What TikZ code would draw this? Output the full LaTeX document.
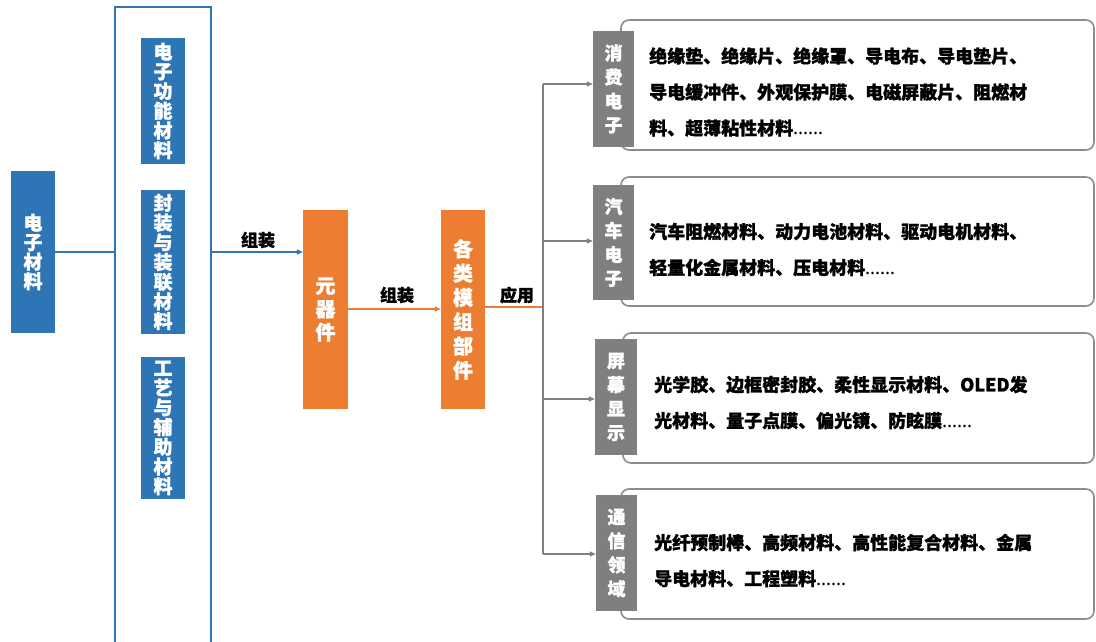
\documentclass[tikz,border=0pt]{standalone}
\usepackage{fontspec}
\setmainfont{Noto Sans CJK SC}[BoldFeatures={FakeBold=1.2}]
\newfontfamily\latinf{Noto Sans}[BoldFeatures={FakeBold=1.2}]
\usetikzlibrary{arrows.meta,positioning,calc}
\definecolor{cblue}{HTML}{2E75B6}
\definecolor{corange}{HTML}{ED7D31}
\definecolor{cgray}{HTML}{7F7F7F}
\definecolor{cborder}{HTML}{8C8C8C}
\newcommand{\myell}{{\latinf\bfseries\fontsize{19}{36}\selectfont ……}}
\tikzset{
  vbox/.style={rectangle, inner sep=0pt, text=white, font=\fontsize{18}{20}\selectfont\bfseries, align=center},
  bluebox/.style={vbox, fill=cblue},
  orangebox/.style={vbox, fill=corange, font=\fontsize{19}{24}\selectfont\bfseries},
  graybox/.style={vbox, fill=cgray, font=\fontsize{18}{24}\selectfont\bfseries},
  itembox/.style={draw=cborder, line width=1.6pt, rounded corners=8pt, fill=white},
  itemtext/.style={anchor=west, inner sep=0pt, align=left, font=\fontsize{18}{36}\selectfont\bfseries},
  lbl/.style={inner sep=0pt, font=\fontsize{17}{20}\selectfont\bfseries},
  arr/.style={-{Triangle[length=6pt,width=5pt]}},
}
\begin{document}
\begin{tikzpicture}[x=1pt,y=-1pt]
\useasboundingbox (0,0) rectangle (1096,641);
\clip (0,0) rectangle (1096,641);
\fill[white] (0,0) rectangle (1096,641);

% left part
\node[bluebox, minimum width=44pt, minimum height=162pt, font=\fontsize{19}{19.5}\selectfont\bfseries] (elec) at (33,252) {电\\子\\材\\料};
\node[draw=cblue, line width=1.4pt, minimum width=96pt, minimum height=653pt, inner sep=0pt] (outline) at (163,333.5) {};
\node[bluebox, minimum width=44pt, minimum height=126pt, font=\fontsize{19}{19.7}\selectfont\bfseries] (b1) at (163,101) {电\\子\\功\\能\\材\\料};
\node[bluebox, minimum width=44pt, minimum height=144pt, font=\fontsize{19}{19.7}\selectfont\bfseries] (b2) at (163,262) {封\\装\\与\\装\\联\\材\\料};
\node[bluebox, minimum width=44pt, minimum height=142pt, font=\fontsize{19}{19.7}\selectfont\bfseries] (b3) at (163,428) {工\\艺\\与\\辅\\助\\材\\料};

\draw[cblue, line width=1.4pt] (elec.east |- 0,252) -- (outline.west |- 0,252);

% middle
\node[orangebox, minimum width=45pt, minimum height=199pt, font=\fontsize{20}{23.3}\selectfont\bfseries] (yqj) at (325.5,309.5) {元\\器\\件};
\node[orangebox, minimum width=44pt, minimum height=199pt, font=\fontsize{20}{24.3}\selectfont\bfseries] (mz) at (463,309.5) {各\\类\\模\\组\\部\\件};

\draw[cblue, line width=1.4pt, arr] (outline.east |- 0,252) -- (yqj.west |- 0,252);
\node[lbl] (l1) at (258,240) {组装};
\draw[corange, line width=1.4pt, arr] (yqj.east |- 0,309) -- (mz.west |- 0,309);
\node[lbl] (l2) at (397,295) {组装};
\coordinate (hub) at (543,307);
\draw[corange, line width=1.4pt] (mz.east |- hub) -- (hub);
\node[lbl] (l3) at (517,295) {应用};

% right boxes
\node[itembox, minimum width=473pt, minimum height=130pt, inner sep=0pt] (r1) at (857.5,85) {};
\node[itembox, minimum width=473pt, minimum height=129pt, inner sep=0pt] (r2) at (857.5,241.5) {};
\node[itembox, minimum width=471pt, minimum height=130pt, inner sep=0pt] (r3) at (858.5,398) {};
\node[itembox, minimum width=473pt, minimum height=130pt, inner sep=0pt] (r4) at (857.5,554) {};

\node[graybox, minimum width=41pt, minimum height=116pt] (g1) at (613.5,89) {消\\费\\电\\子};
\node[graybox, minimum width=41pt, minimum height=115pt] (g2) at (613.5,242.5) {汽\\车\\电\\子};
\node[graybox, minimum width=42pt, minimum height=116pt] (g3) at (616,397) {屏\\幕\\显\\示};
\node[graybox, minimum width=41pt, minimum height=116pt] (g4) at (616.5,553) {通\\信\\领\\域};

\node[itemtext] (t1) at (649,92) {绝缘垫、绝缘片、绝缘罩、导电布、导电垫片、\\导电缓冲件、外观保护膜、电磁屏蔽片、阻燃材\\料、超薄粘性材料\myell};
\node[itemtext] (t2) at (649,249.5) {汽车阻燃材料、动力电池材料、驱动电机材料、\\轻量化金属材料、压电材料\myell};
\node[itemtext] (t3) at (654,402.5) {光学胶、边框密封胶、柔性显示材料、OLED发\\光材料、量子点膜、偏光镜、防眩膜\myell};
\node[itemtext] (t4) at (654,560.5) {光纤预制棒、高频材料、高性能复合材料、金属\\导电材料、工程塑料\myell};

% connectors
\coordinate (top) at (543,84);
\coordinate (bot) at (543,554);
\draw[cgray, line width=1.4pt] (top) -- (bot);
\draw[cgray, line width=1.4pt, arr] (top) -- (g1.west |- top);
\draw[cgray, line width=1.4pt, arr] (543,241) -- (g2.west |- 0,241);
\draw[cgray, line width=1.4pt, arr] (543,399) -- (g3.west |- 0,399);
\draw[cgray, line width=1.4pt, arr] (bot) -- (g4.west |- bot);
\end{tikzpicture}
\end{document}
